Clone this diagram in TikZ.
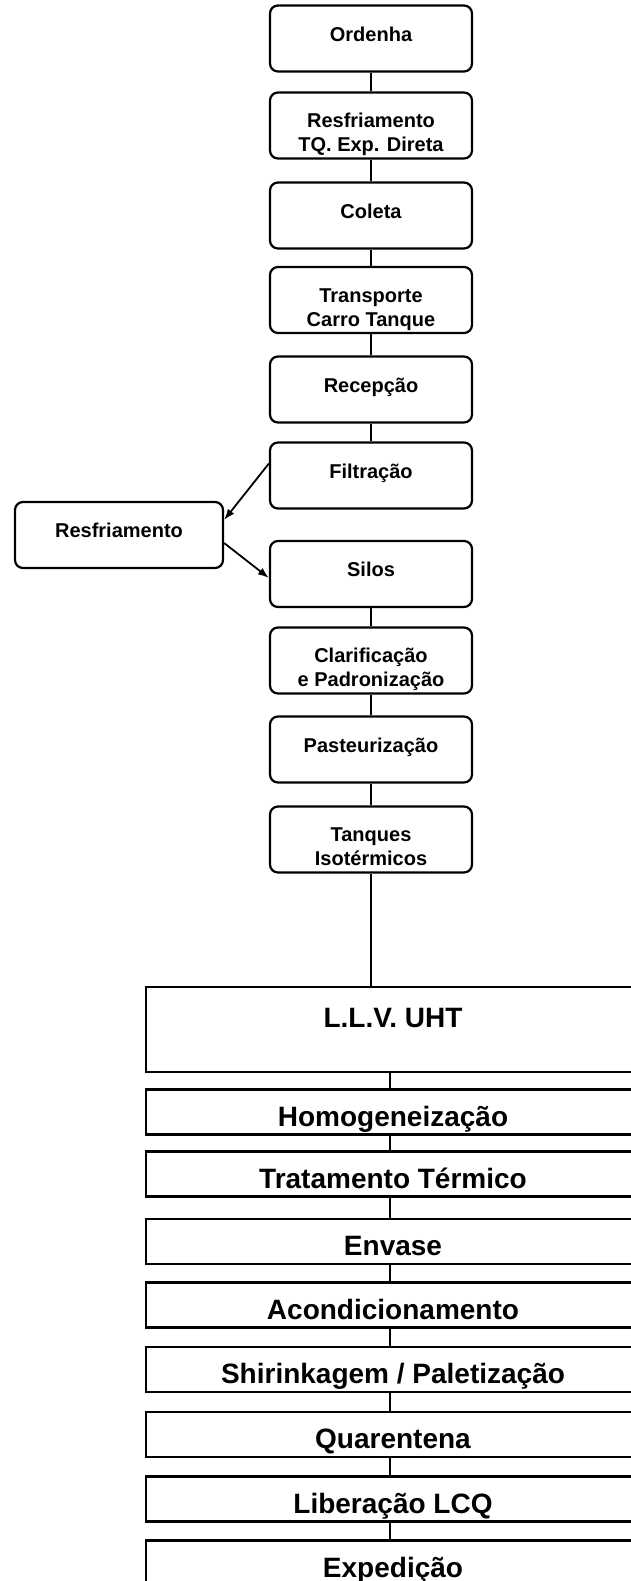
\documentclass[tikz,border=0pt]{standalone}
\usepackage{fontspec}
\setmainfont{Liberation Sans}
\usetikzlibrary{arrows.meta}

\tikzset{
  topbox/.style={draw, line width=2.2pt, rounded corners=8pt, minimum width=202pt, minimum height=66pt, inner sep=0pt, align=center, font=\bfseries\fontsize{20}{24}\selectfont},
  oneline/.style={topbox, text height=5.5pt, text depth=0pt},
  twoline/.style={topbox, text height=52pt, text depth=0pt},
  bigbox/.style={draw, line width=2.2pt, minimum width=494pt, minimum height=45pt, inner sep=0pt, text height=28.2pt, text depth=0pt, font=\bfseries\fontsize{28}{32}\selectfont},
  link/.style={line width=1.8pt}
}

\begin{document}
\begin{tikzpicture}[x=1pt,y=-1pt]
\useasboundingbox[fill=white] (0,0) rectangle (630,1581);

\node[oneline] (ordenha) at (371,38.5) {Ordenha};
\node[twoline] (resfr) at (371,125.5) {Resfriamento\\TQ. Exp. Direta};
\node[oneline] (coleta) at (371,215.5) {Coleta};
\node[twoline] (transp) at (371,300) {Transporte\\Carro Tanque};
\node[oneline] (recep) at (371,389.5) {Recepção};
\node[oneline] (filtr) at (371,475.5) {Filtração};
\node[oneline, minimum width=208pt] (resfside) at (119,535) {Resfriamento};
\node[oneline] (silos) at (371,574) {Silos};
\node[twoline] (clarif) at (371,660.5) {Clarificação\\e Padronização};
\node[oneline] (pasteur) at (371,749.5) {Pasteurização};
\node[twoline] (tanques) at (371,839.5) {Tanques\\Isotérmicos};

\node[bigbox, minimum height=85pt, text height=0pt, text depth=3.8pt] (llv) at (393,1029.5) {L.L.V. UHT};
\node[bigbox] (homog) at (393,1112) {Homogeneização};
\node[bigbox] (tratam) at (393,1174) {Tratamento Térmico};
\node[bigbox] (envase) at (393,1241.5) {Envase};
\node[bigbox] (acond) at (393,1305) {Acondicionamento};
\node[bigbox] (shrink) at (393,1369.5) {Shirinkagem / Paletização};
\node[bigbox] (quar) at (393,1434.5) {Quarentena};
\node[bigbox] (liber) at (393,1499) {Liberação LCQ};
\node[bigbox] (exped) at (393,1563) {Expedição};

\foreach \a/\b in {ordenha/resfr, resfr/coleta, coleta/transp, transp/recep, recep/filtr, silos/clarif, clarif/pasteur, pasteur/tanques}
  \draw[link] (\a) -- (\b);
\draw[link] (tanques.south) -- (tanques.south |- llv.north);
\foreach \a/\b in {llv/homog, homog/tratam, tratam/envase, envase/acond, acond/shrink, shrink/quar, quar/liber, liber/exped}
  \draw[link] ([xshift=-3pt]\a.south) -- ([xshift=-3pt]\b.north);

\draw[link, -{Latex[length=11pt,width=8pt]}] ([yshift=12pt]filtr.west) -- ([yshift=15pt]resfside.east);
\draw[link, -{Latex[length=11pt,width=8pt]}] ([yshift=-8pt]resfside.east) -- ([yshift=-4pt]silos.west);
\end{tikzpicture}
\end{document}
